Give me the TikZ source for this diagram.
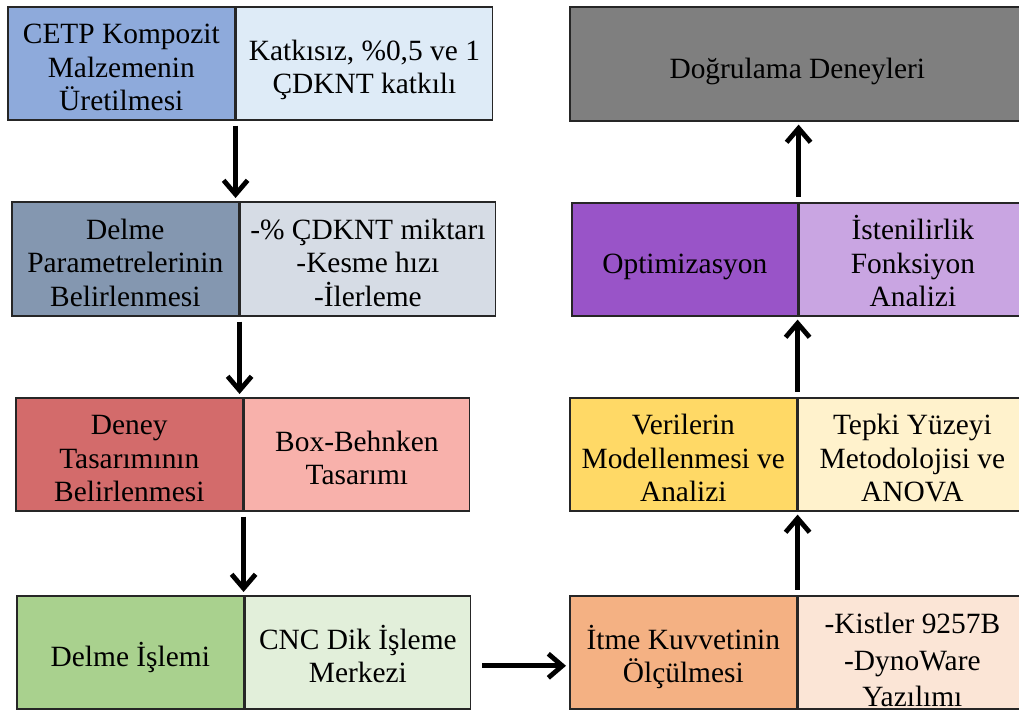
\documentclass[tikz,border=0pt]{standalone}
\usepackage{fontspec}
\setmainfont{Liberation Serif}
\usetikzlibrary{arrows.meta,positioning}

\definecolor{blueD}{HTML}{8EAADB}
\definecolor{blueL}{HTML}{DEEBF7}
\definecolor{slateD}{HTML}{8497B0}
\definecolor{slateL}{HTML}{D6DCE5}
\definecolor{redD}{HTML}{D36B6B}
\definecolor{redL}{HTML}{F8B1AB}
\definecolor{greenD}{HTML}{A9D18E}
\definecolor{greenL}{HTML}{E2EFDA}
\definecolor{grayD}{HTML}{7F7F7F}
\definecolor{purpleD}{HTML}{9954C8}
\definecolor{purpleL}{HTML}{C9A5E2}
\definecolor{yellowD}{HTML}{FFD966}
\definecolor{yellowL}{HTML}{FFF2CC}
\definecolor{orangeD}{HTML}{F4B183}
\definecolor{orangeL}{HTML}{FBE5D6}

\begin{document}
\begin{tikzpicture}[x=0.5pt, y=-0.5pt, node distance=0pt,
                    font=\fontsize{14.7pt}{16.75pt}\selectfont,
                    main box/.style={draw=black!85, line width=0.8pt, align=center,
                      minimum width=113.5pt, minimum height=56.5pt, inner xsep=2pt, inner ysep=0pt},
                    side box/.style={main box, minimum width=#1},
                    three lines/.style={text height=52pt, text depth=4.5pt},
                    two lines/.style={text height=43.5pt, text depth=13pt},
                    one line/.style={text height=35.5pt, text depth=21pt},
                    arr/.style={line width=2.4pt, -{Straight Barb[length=7pt,width=12pt]},
                      shorten <=2.5pt, shorten >=1.5pt}]

  \useasboundingbox (0,0) rectangle (1019,711);

  % left column
  \node[main box, three lines, fill=blueD, anchor=north west] (1) at (7,6) {CETP Kompozit\\Malzemenin\\Üretilmesi};
  \node[side box=128pt, two lines, fill=blueL] (1r) [right=of 1] {Katkısız, \%0,5 ve 1\\ÇDKNT katkılı};

  \node[main box, three lines, fill=slateD, anchor=north west, minimum height=57pt] (2) at (11,201) {Delme\\Parametrelerinin\\Belirlenmesi};
  \node[side box=127.5pt, three lines, fill=slateL, minimum height=57pt] (2r) [right=of 2] {-\% ÇDKNT miktarı\\-Kesme hızı\\-İlerleme};

  \node[main box, three lines, fill=redD, anchor=north west] (3) at (15,397) {Deney\\Tasarımının\\Belirlenmesi};
  \node[side box=112.5pt, two lines, fill=redL] (3r) [right=of 3] {Box-Behnken\\Tasarımı};

  \node[main box, one line, fill=greenD, anchor=north west] (4) at (16,595) {Delme İşlemi};
  \node[side box=112.5pt, two lines, fill=greenL] (4r) [right=of 4] {CNC Dik İşleme\\Merkezi};

  % right column
  \node[main box, two lines, fill=orangeD, anchor=north west] (5) at (569,595) {İtme Kuvvetinin\\Ölçülmesi};
  \node[side box=114pt, fill=orangeL, text height=55.5pt, text depth=1pt,
        font=\fontsize{14.7pt}{18.25pt}\selectfont] (5r) [right=of 5] {-Kistler 9257B\\-DynoWare\\Yazılımı};

  \node[main box, three lines, fill=yellowD, anchor=north west] (6) at (569,397) {Verilerin\\Modellenmesi ve\\Analizi};
  \node[side box=114pt, three lines, fill=yellowL] (6r) [right=of 6] {Tepki Yüzeyi\\Metodolojisi ve\\ANOVA};

  \node[main box, one line, fill=purpleD, anchor=north west, minimum width=113pt] (7) at (571,202) {Optimizasyon};
  \node[side box=113.5pt, three lines, fill=purpleL] (7r) [right=of 7] {İstenilirlik\\Fonksiyon\\Analizi};

  \node[side box=227.5pt, one line, fill=grayD, anchor=north west, minimum height=57pt] (8) at (569,6) {Doğrulama Deneyleri};

  % arrows
  \draw[arr] (1.south east) -- (1.south east |- 2.north);
  \draw[arr] (2.south east) -- (2.south east |- 3.north);
  \draw[arr] (3.south east) -- (3.south east |- 4.north);
  \draw[arr, shorten <=5.5pt] ([yshift=-6.75pt]4r.east) -- ([yshift=-6.75pt]4r.east -| 5.west);
  \draw[arr] (5.north east) -- (5.north east |- 6.south);
  \draw[arr] (6.north east) -- (6.north east |- 7.south);
  \draw[arr] (7.north east) -- (7.north east |- 8.south);
\end{tikzpicture}
\end{document}
